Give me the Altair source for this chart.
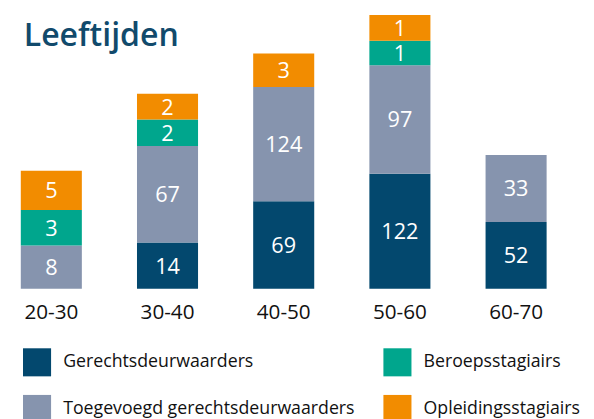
import altair as alt
import pandas as pd

title_text = ["Leeftijden"]
ages = ["20-30", "30-40", "40-50", "50-60", "60-70"]
categories = [
    "Gerechtsdeurwaarders",
    "Toegevoegd gerechtsdeurwaarders",
    "Beroepsstagiairs",
    "Opleidingsstagiairs",
]
colors = {
    "Gerechtsdeurwaarders": "#03486e",
    "Toegevoegd gerechtsdeurwaarders": "#8694ae",
    "Beroepsstagiairs": "#00a68d",
    "Opleidingsstagiairs": "#f28c00",
}

# counts shown in the segments (None = no segment)
count_gerechts = [None, 14, 69, 122, 52]
count_toegevoegd = [8, 67, 124, 97, 33]
count_beroeps = [3, 2, None, 1, None]
count_opleidings = [5, 2, 3, 1, None]

# segment lengths as drawn in the infographic (not proportional to the counts)
len_gerechts = [0, 47, 89, 117, 68]
len_toegevoegd = [44, 98, 116, 110, 68]
len_beroeps = [36, 27, 0, 25, 0]
len_opleidings = [40, 26, 34, 26, 0]

counts = [count_gerechts, count_toegevoegd, count_beroeps, count_opleidings]
lengths = [len_gerechts, len_toegevoegd, len_beroeps, len_opleidings]

rows = []
for ci, cat in enumerate(categories):
    for ai, age in enumerate(ages):
        c = counts[ci][ai]
        if c is None:
            continue
        rows.append({"age": age, "cat": cat, "ord": ci, "count": c, "len": lengths[ci][ai]})
df = pd.DataFrame(rows)

font = "Open Sans"

x_enc = alt.X(
    "age:N",
    sort=ages,
    title=None,
    scale=alt.Scale(paddingInner=0.4746, paddingOuter=0),
    axis=alt.Axis(
        domain=False, ticks=False, tickSize=0, labelAngle=0,
        labelFont=font, labelFontSize=21, labelColor="#111111",
        labelBaseline="middle", labelPadding=24,
    ),
)

base = alt.Chart(df).transform_stack(
    stack="len",
    groupby=["age"],
    sort=[alt.SortField("ord", order="ascending")],
    as_=["y0", "y1"],
).transform_calculate(mid="(datum.y0 + datum.y1) / 2")

bars = base.mark_bar(strokeWidth=0).encode(
    x=x_enc,
    y=alt.Y("y0:Q", scale=alt.Scale(domain=[0, 278]), axis=None),
    y2="y1:Q",
    color=alt.Color(
        "cat:N",
        scale=alt.Scale(domain=categories, range=[colors[c] for c in categories]),
        legend=alt.Legend(
            orient="none", legendX=2, legendY=338, columns=2, title=None,
            symbolType="square", symbolSize=812, symbolStrokeWidth=0, symbolOpacity=1,
            labelFont=font, labelFontSize=18, labelColor="#111111",
            labelOffset=12, rowPadding=18.5, columnPadding=29, labelLimit=0, padding=0,
        ),
    ),
)

labels = base.mark_text(font=font, fontSize=22, color="white", baseline="middle", dy=1).encode(
    x=x_enc,
    y=alt.Y("mid:Q", scale=alt.Scale(domain=[0, 278]), axis=None),
    text="count:Q",
)

title = alt.Chart(pd.DataFrame({"t": title_text})).mark_text(
    align="left", baseline="alphabetic", font=font, fontSize=32.5, fontWeight=600, color="#114a6c",
).encode(text="t:N", x=alt.value(3), y=alt.value(31))

chart = alt.layer(bars, labels, title).properties(
    width=534,
    height=278,
    autosize=alt.AutoSizeParams(type="none"),
    padding={"left": 13, "top": 4, "right": 40, "bottom": 130},
).configure_view(strokeWidth=0)

chart.save("out.html", embed_options={"renderer": "svg", "actions": False})
